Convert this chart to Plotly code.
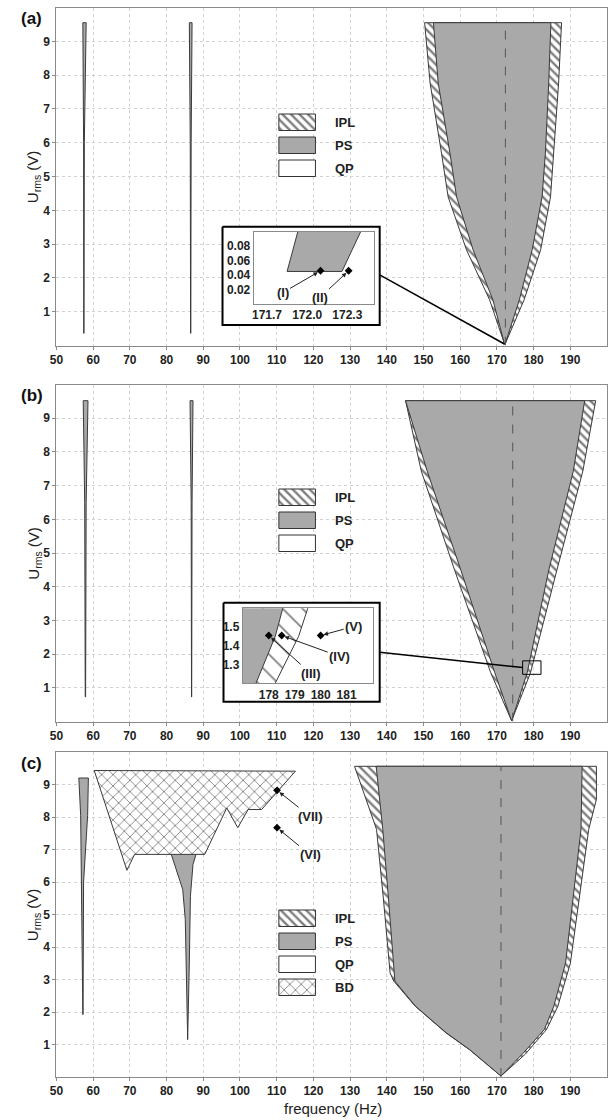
import plotly.graph_objects as go

W, H = 613, 1120
FONT = "Liberation Sans, Arial, sans-serif"
GREY = "#a9a9a9"
EDGE = "#3a3a3a"

# ---------------- axes / ticks ----------------
X_TICKS = [50, 60, 70, 80, 90, 100, 110, 120, 130, 140, 150, 160, 170, 180, 190]
Y_TICKS = [1, 2, 3, 4, 5, 6, 7, 8, 9]
X_RANGE = [50, 200]
Y_RANGE = [0, 10]

# ---------------- panel (a) ----------------
A_U = [9.55, 7.76, 5.69, 4.40, 2.83, 1.35, 0.10, 0.045]
A_IPL_L = [150.3, 151.8, 154.9, 156.7, 161.7, 168.0, 171.90, 171.85]
A_PS_L = [152.7, 154.0, 157.2, 159.0, 163.5, 168.9, 171.93, 171.85]
A_PS_R = [184.7, 184.1, 183.2, 182.3, 179.6, 176.1, 172.40, 172.26]
A_IPL_R = [187.6, 186.8, 185.5, 184.6, 181.9, 177.4, 172.45, 172.26]
A_CENTER = 172.3
A_S1_U = [9.55, 6.0, 0.36]
A_S1_L = [57.2, 57.4, 57.45]
A_S1_R = [58.1, 57.6, 57.5]
A_S2_U = [9.55, 6.0, 0.36]
A_S2_L = [86.2, 86.45, 86.55]
A_S2_R = [86.95, 86.7, 86.6]
A_PTS_F = [172.1, 172.31]
A_PTS_U = [0.046, 0.046]
A_PTS_LBL = ["(I)", "(II)"]
A_INSET_X = [171.6, 172.5]
A_INSET_Y = [0.0, 0.1]
A_INSET_XT = [171.7, 172.0, 172.3]
A_INSET_YT = [0.02, 0.04, 0.06, 0.08]

# ---------------- panel (b) ----------------
B_U = [9.52, 7.43, 4.48, 1.45, 0.02]
B_IPL_L = [145.1, 149.4, 158.5, 168.3, 174.0]
B_PS_L = [145.1, 151.0, 160.2, 169.4, 174.0]
B_PS_R = [193.9, 190.8, 184.1, 178.25, 174.0]
B_IPL_R = [196.9, 193.4, 186.3, 179.15, 174.0]
B_CENTER = 174.3
B_S1_U = [9.52, 6.5, 0.73]
B_S1_L = [57.3, 57.7, 57.85]
B_S1_R = [58.6, 58.1, 57.95]
B_S2_U = [9.52, 6.5, 0.73]
B_S2_L = [86.4, 86.7, 86.8]
B_S2_R = [87.2, 86.95, 86.85]
B_PTS_F = [178.0, 178.5, 180.0]
B_PTS_U = [1.455, 1.455, 1.455]
B_PTS_LBL = ["(III)", "(IV)", "(V)"]
B_INSET_X = [177.0, 182.0]
B_INSET_Y = [1.2, 1.6]
B_INSET_XT = [178, 179, 180, 181]
B_INSET_YT = [1.3, 1.4, 1.5]
B_RECT_U = [1.4, 1.8]

# ---------------- panel (c) ----------------
C_IPL_L_U = [9.56, 7.62, 5.57, 3.20, 2.95, 2.18, 1.36, 0.85, 0.03]
C_IPL_L = [131.2, 137.2, 139.0, 140.9, 141.9, 147.7, 156.1, 162.4, 171.1]
C_PS_L_U = [9.56, 7.62, 5.57, 3.51, 2.95, 2.18, 1.36, 0.85, 0.03]
C_PS_L = [137.1, 138.9, 140.4, 141.8, 142.2, 147.8, 156.2, 162.5, 171.1]
C_PS_R_U = [9.56, 7.62, 5.56, 3.51, 2.18, 1.46, 0.74, 0.03]
C_PS_R = [193.2, 192.9, 190.8, 188.7, 185.5, 182.9, 177.2, 171.1]
C_IPL_R_U = [9.56, 8.54, 7.62, 5.56, 3.50, 2.18, 1.46, 0.70, 0.03]
C_IPL_R = [197.1, 197.1, 195.0, 192.4, 190.0, 186.6, 183.5, 177.7, 171.1]
C_CENTER = 171.1
C_S1_LU = [9.2, 8.05, 1.92]
C_S1_L = [56.1, 56.6, 57.2]
C_S1_RU = [9.2, 8.05, 6.0, 1.92]
C_S1_R = [58.7, 58.5, 57.4, 57.25]
C_S2_LU = [6.88, 5.77, 4.85, 1.15]
C_S2_L = [81.2, 84.4, 85.1, 85.7]
C_S2_RU = [6.88, 6.54, 5.56, 3.51, 1.15]
C_S2_R = [88.1, 87.2, 86.5, 86.2, 85.75]
BD_F = [60.3, 115.1, 105.9, 102.2, 99.4, 96.4, 90.4, 71.3, 69.2]
BD_U = [9.43, 9.41, 8.23, 8.23, 7.67, 8.28, 6.85, 6.85, 6.36]
C_PTS_F = [110.1, 110.1]
C_PTS_U = [8.82, 7.67]
C_PTS_LBL = ["(VII)", "(VI)"]

# ---------------- layout geometry (pixels) ----------------
PLOT_L, PLOT_R = 50, 607
PANEL_PX = {"a": (7.5, 345.5), "b": (384.5, 721.5), "c": (752, 1077)}
AX_IDS = {"a": ("x", "y"), "b": ("x2", "y2"), "c": ("x3", "y3")}
INSET_A_PX = (249.5, 371.3, 231.7, 304.0)
INSET_A_BOX = (218, 377, 226.7, 325)
INSET_B_PX = (238.5, 369.8, 608.3, 683.3)
INSET_B_BOX = (219, 377, 602.7, 701.7)
LEGEND_X = (275, 312)
LEGEND_TOP = {"a": 114, "b": 489, "c": 910}
LEGEND_STEP, LEGEND_H = 23, 16.5

IPL_PAT = dict(shape="\\", fgcolor="black", bgcolor="white", size=6, solidity=0.4)
BD_PAT = dict(shape="x", fgcolor="#111", bgcolor="white", size=8, solidity=0.22)


def fpx(f):
    return PLOT_L + (f - X_RANGE[0]) / (X_RANGE[1] - X_RANGE[0]) * (PLOT_R - PLOT_L)


def upx(u, p):
    top, bot = PANEL_PX[p]
    return bot - (u - Y_RANGE[0]) / (Y_RANGE[1] - Y_RANGE[0]) * (bot - top)


def poly(xl, ul, xr, ur):
    xs = list(xl) + list(reversed(xr)) + [xl[0]]
    ys = list(ul) + list(reversed(ur)) + [ul[0]]
    return xs, ys


fig = go.Figure()


def region(xs, ys, kind, xa, ya, patsize=None):
    kw = dict(x=xs, y=ys, xaxis=xa, yaxis=ya, mode="lines", fill="toself",
              line=dict(color=EDGE, width=1), hoverinfo="skip", showlegend=False)
    if kind == "PS":
        kw["fillcolor"] = GREY
    elif kind == "IPL":
        pat = dict(IPL_PAT)
        if patsize:
            pat["size"] = patsize
            pat["solidity"] = 0.12
        kw["fillcolor"] = "white"
        kw["fillpattern"] = pat
    elif kind == "BD":
        kw["fillcolor"] = "white"
        kw["fillpattern"] = BD_PAT
    else:
        kw["fillcolor"] = "white"
    fig.add_trace(go.Scatter(**kw))


def dashed(center, top, xa, ya):
    fig.add_trace(go.Scatter(x=[center, center], y=[0, top], xaxis=xa, yaxis=ya, mode="lines",
                             line=dict(color="#555", width=1, dash="dash"), hoverinfo="skip",
                             showlegend=False))


def markers(fs, us, xa, ya):
    fig.add_trace(go.Scatter(x=fs, y=us, xaxis=xa, yaxis=ya, mode="markers",
                             marker=dict(symbol="diamond", size=6, color="black"),
                             hoverinfo="skip", showlegend=False))


# ---- panel (a) ----
xa, ya = AX_IDS["a"]
region(*poly(A_IPL_L, A_U, A_IPL_R, A_U), "IPL", xa, ya)
region(*poly(A_PS_L, A_U, A_PS_R, A_U), "PS", xa, ya)
dashed(A_CENTER, A_U[0], xa, ya)
region(*poly(A_S1_L, A_S1_U, A_S1_R, A_S1_U), "PS", xa, ya)
region(*poly(A_S2_L, A_S2_U, A_S2_R, A_S2_U), "PS", xa, ya)

# ---- panel (b) ----
xa, ya = AX_IDS["b"]
region(*poly(B_IPL_L, B_U, B_IPL_R, B_U), "IPL", xa, ya)
region(*poly(B_PS_L, B_U, B_PS_R, B_U), "PS", xa, ya)
dashed(B_CENTER, B_U[0], xa, ya)
region(*poly(B_S1_L, B_S1_U, B_S1_R, B_S1_U), "PS", xa, ya)
region(*poly(B_S2_L, B_S2_U, B_S2_R, B_S2_U), "PS", xa, ya)

# ---- panel (c) ----
xa, ya = AX_IDS["c"]
region(*poly(C_IPL_L, C_IPL_L_U, C_IPL_R, C_IPL_R_U), "IPL", xa, ya)
region(*poly(C_PS_L, C_PS_L_U, C_PS_R, C_PS_R_U), "PS", xa, ya)
dashed(C_CENTER, C_PS_L_U[0], xa, ya)
region(*poly(C_S1_L, C_S1_LU, C_S1_R, C_S1_RU), "PS", xa, ya)
region(*poly(C_S2_L, C_S2_LU, C_S2_R, C_S2_RU), "PS", xa, ya)
region(BD_F + [BD_F[0]], BD_U + [BD_U[0]], "BD", xa, ya)
markers(C_PTS_F, C_PTS_U, xa, ya)

# ---- overlay (pixel space): inset frames, connectors, legend boxes ----
def rect_xy(x0, x1, y0, y1):
    return [x0, x1, x1, x0, x0], [y0, y0, y1, y1, y0]


for box in (INSET_A_BOX, INSET_B_BOX):
    xs, ys = rect_xy(box[0], box[1], box[2], box[3])
    fig.add_trace(go.Scatter(x=xs, y=ys, xaxis="x4", yaxis="y4", mode="lines", fill="toself",
                             fillcolor="white", line=dict(color="black", width=2),
                             hoverinfo="skip", showlegend=False))

conn_a = ([INSET_A_BOX[1], fpx((A_PS_L[-1] + A_PS_R[-1]) / 2)],
          [(INSET_A_BOX[2] + INSET_A_BOX[3]) / 2 - 1, upx(A_U[-1], "a")])
conn_b = ([INSET_B_BOX[1], fpx(B_INSET_X[0])],
          [(INSET_B_BOX[2] + INSET_B_BOX[3]) / 2, upx(sum(B_RECT_U) / 2, "b")])
for cx, cy in (conn_a, conn_b):
    fig.add_trace(go.Scatter(x=cx, y=cy, xaxis="x4", yaxis="y4", mode="lines",
                             line=dict(color="black", width=1.5), hoverinfo="skip", showlegend=False))

LEGENDS = {"a": ["IPL", "PS", "QP"], "b": ["IPL", "PS", "QP"], "c": ["IPL", "PS", "QP", "BD"]}
annotations = []
for p, items in LEGENDS.items():
    for i, name in enumerate(items):
        y0 = LEGEND_TOP[p] + i * LEGEND_STEP
        xs, ys = rect_xy(LEGEND_X[0], LEGEND_X[1], y0, y0 + LEGEND_H)
        kw = dict(x=xs, y=ys, xaxis="x4", yaxis="y4", mode="lines", fill="toself",
                  line=dict(color="#333", width=1), hoverinfo="skip", showlegend=False)
        if name == "PS":
            kw["fillcolor"] = GREY
        elif name == "IPL":
            kw["fillcolor"] = "white"
            kw["fillpattern"] = IPL_PAT
        elif name == "BD":
            kw["fillcolor"] = "white"
            kw["fillpattern"] = BD_PAT
        else:
            kw["fillcolor"] = "white"
        fig.add_trace(go.Scatter(**kw))
        annotations.append(dict(text=name, xref="paper", yref="paper", x=(LEGEND_X[1] + 18) / W,
                                y=1 - (y0 + LEGEND_H / 2) / H, xanchor="left", yanchor="middle",
                                showarrow=False, font=dict(family=FONT, size=13, color="#222",
                                                           weight="bold")))

# ---- insets ----
region(*poly(A_PS_L, A_U, A_PS_R, A_U), "PS", "x5", "y5")
markers(A_PTS_F, A_PTS_U, "x5", "y5")
region(*poly(B_IPL_L, B_U, B_IPL_R, B_U), "IPL", "x6", "y6", patsize=14)
region(*poly(B_PS_L, B_U, B_PS_R, B_U), "PS", "x6", "y6")
markers(B_PTS_F, B_PTS_U, "x6", "y6")

# ---------------- axes layout ----------------
TICKFONT = dict(family=FONT, size=12, color="#222", weight="bold")
GRID = dict(showgrid=True, gridcolor="#d2d2d2", griddash="dot", gridwidth=1)


def main_axes(p):
    top, bot = PANEL_PX[p]
    common = dict(showline=True, linecolor="#8a8a8a", linewidth=1, mirror=True,
                  ticks="outside", ticklen=3, tickcolor="#8a8a8a", tickfont=TICKFONT,
                  zeroline=False, **GRID)
    xa = dict(domain=[PLOT_L / W, PLOT_R / W], range=X_RANGE, tickvals=X_TICKS, **common)
    ya = dict(domain=[1 - bot / H, 1 - top / H], range=Y_RANGE, tickvals=Y_TICKS, **common)
    return xa, ya


def inset_axes(px, xr, yr, xt, yt, xfmt, yfmt):
    x0, x1, y0, y1 = px
    common = dict(showgrid=False, showline=True, linecolor="#8a8a8a", linewidth=1, mirror=True,
                  ticks="", tickfont=TICKFONT, zeroline=False)
    xa = dict(domain=[x0 / W, x1 / W], range=xr, tickvals=xt, tickformat=xfmt, **common)
    ya = dict(domain=[1 - y1 / H, 1 - y0 / H], range=yr, tickvals=yt, tickformat=yfmt, **common)
    return xa, ya


layout = {}
for p, (xid, yid) in AX_IDS.items():
    xa, ya = main_axes(p)
    xa["anchor"] = yid
    ya["anchor"] = xid
    layout["xaxis" + xid[1:]] = xa
    layout["yaxis" + yid[1:]] = ya

layout["xaxis4"] = dict(domain=[0, 1], range=[0, W], visible=False, anchor="y4")
layout["yaxis4"] = dict(domain=[0, 1], range=[H, 0], visible=False, anchor="x4")

xa5, ya5 = inset_axes(INSET_A_PX, A_INSET_X, A_INSET_Y, A_INSET_XT, A_INSET_YT, ".1f", ".2f")
xa5["anchor"], ya5["anchor"] = "y5", "x5"
xa6, ya6 = inset_axes(INSET_B_PX, B_INSET_X, B_INSET_Y, B_INSET_XT, B_INSET_YT, "d", ".1f")
xa6["anchor"], ya6["anchor"] = "y6", "x6"
layout.update(xaxis5=xa5, yaxis5=ya5, xaxis6=xa6, yaxis6=ya6)

# small zoom rectangle on panel (b)
shapes = [dict(type="rect", xref="x2", yref="y2", x0=B_INSET_X[0], x1=B_INSET_X[1],
               y0=B_RECT_U[0], y1=B_RECT_U[1], line=dict(color="black", width=1), layer="above")]

# ---- text ----
for lbl, (top, bot) in zip(["(a)", "(b)", "(c)"], PANEL_PX.values()):
    annotations.append(dict(text=lbl, xref="paper", yref="paper", x=12 / W, y=1 - (top + 11) / H,
                            xanchor="left", yanchor="middle", showarrow=False,
                            font=dict(family=FONT, size=17, color="#111", weight="bold")))
    annotations.append(dict(text="U<sub>rms</sub> (V)", xref="paper", yref="paper", x=27 / W,
                            y=1 - (top + bot) / 2 / H, textangle=-90, xanchor="center",
                            yanchor="middle", showarrow=False,
                            font=dict(family=FONT, size=15, color="#222")))
annotations.append(dict(text="frequency (Hz)", xref="paper", yref="paper", x=330 / W,
                        y=1 - 1108 / H, xanchor="center", yanchor="middle", showarrow=False,
                        font=dict(family=FONT, size=15, color="#222")))

PT_OFFS = {"(I)": (-38, 22), "(II)": (-29, 27), "(III)": (42, 38), "(IV)": (58, 21),
           "(V)": (33, -9), "(VII)": (33, 26), "(VI)": (33, 27)}
for fs, us, lbls, xr, yr in ((A_PTS_F, A_PTS_U, A_PTS_LBL, "x5", "y5"),
                             (B_PTS_F, B_PTS_U, B_PTS_LBL, "x6", "y6"),
                             (C_PTS_F, C_PTS_U, C_PTS_LBL, "x3", "y3")):
    for f, u, t in zip(fs, us, lbls):
        ax, ay = PT_OFFS[t]
        annotations.append(dict(text=t, xref=xr, yref=yr, x=f, y=u, ax=ax, ay=ay,
                                showarrow=True, arrowhead=2, arrowsize=0.9, arrowwidth=1,
                                arrowcolor="#222", standoff=3,
                                font=dict(family=FONT, size=13, color="#222", weight="bold")))

fig.update_layout(width=W, height=H, margin=dict(l=0, r=0, t=0, b=0),
                  paper_bgcolor="white", plot_bgcolor="rgba(0,0,0,0)",
                  showlegend=False, shapes=shapes, annotations=annotations, **layout)

fig.write_html("out.html")
